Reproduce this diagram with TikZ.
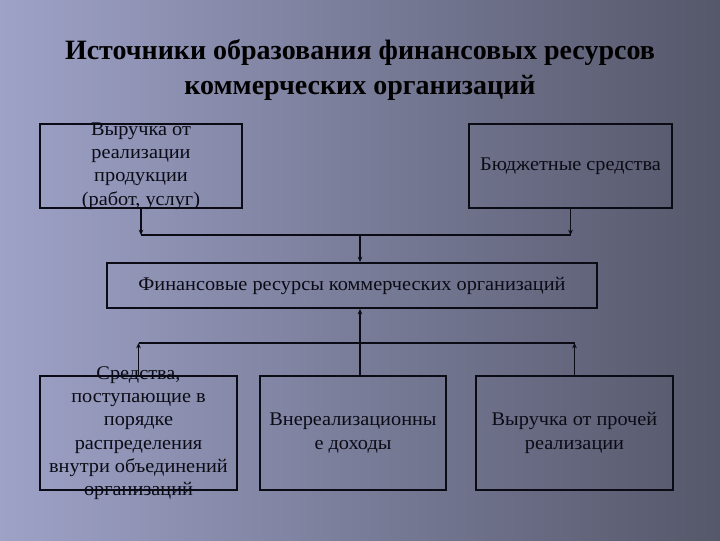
\documentclass[tikz,border=0pt]{standalone}
\usepackage{fontspec}
\setmainfont{Liberation Serif}
\newfontfamily\bodyfont[FakeStretch=1.05]{Liberation Serif}
\usetikzlibrary{arrows.meta, positioning}
\definecolor{slideLight}{HTML}{9EA2C7}
\definecolor{slideMid}{HTML}{7A7D9C}
\definecolor{slideDark}{HTML}{55576A}
\definecolor{boxInk}{HTML}{0B0B16}

\begin{document}
\begin{tikzpicture}[x=0.75pt, y=-0.75pt,
        box/.style={draw=boxInk, line width=1.5pt, inner sep=0pt},
        boxtext/.style={font=\bodyfont\fontsize{14.5}{17.5}\selectfont, text=boxInk, align=center, inner sep=0pt},
        link/.style={draw=boxInk, line width=1.1pt},
        tip/.style={-{Stealth[length=4pt, width=3.5pt]}}]
        % slide background
        \shade[left color=slideLight, middle color=slideMid, right color=slideDark] (0,0) rectangle (720,540);
        \useasboundingbox (0,0) rectangle (720,540);
        \node[font=\bfseries\fontsize{21}{26}\selectfont, text=black, align=center] (title) at (360,70)
          {Источники образования финансовых ресурсов\\коммерческих организаций};
        % sources
        \node[box, minimum width=151.5pt, minimum height=63pt] (rev) at (141,166) {};
        \node[boxtext] (revtext) at (rev) {Выручка от\\реализации\\продукции\\(работ, услуг)};
        \node[box, boxtext, minimum width=152.25pt, minimum height=63pt, right=168.75pt of rev] (bud) {Бюджетные средства};
        \node[box, boxtext, minimum width=367.5pt, minimum height=33.75pt] (fin) at (352,285.5) {Финансовые ресурсы коммерческих организаций};
        % lower row
        \node[box, minimum width=147.75pt, minimum height=85pt] (distrib) at (138.5,433) {};
        \node[boxtext] (distribtext) at (distrib) {Средства,\\поступающие в\\порядке\\распределения\\внутри объединений\\организаций};
        \node[box, boxtext, minimum width=139.5pt, minimum height=85pt, right=15.75pt of distrib] (nonop) {Внереализационны\\е доходы};
        \node[box, boxtext, minimum width=147.75pt, minimum height=85pt, right=21pt of nonop] (other) {Выручка от прочей\\реализации};
        % connectors
        \coordinate (topRail) at (360,235);
        \coordinate (lowRail) at (360,343);
        \draw[link, tip] (rev.south) -- (rev.south |- topRail);
        \draw[link, tip] (bud.south) -- (bud.south |- topRail);
        \draw[link] (rev.south |- topRail) -- (bud.south |- topRail);
        \draw[link, tip] (topRail) -- (topRail |- fin.north);
        \draw[link, tip] (lowRail |- nonop.north) -- (lowRail |- fin.south);
        \draw[link, tip] (distrib.north) -- (distrib.north |- lowRail);
        \draw[link, tip] (other.north) -- (other.north |- lowRail);
        \draw[link] (distrib.north |- lowRail) -- (other.north |- lowRail);
      \end{tikzpicture}
\end{document}
